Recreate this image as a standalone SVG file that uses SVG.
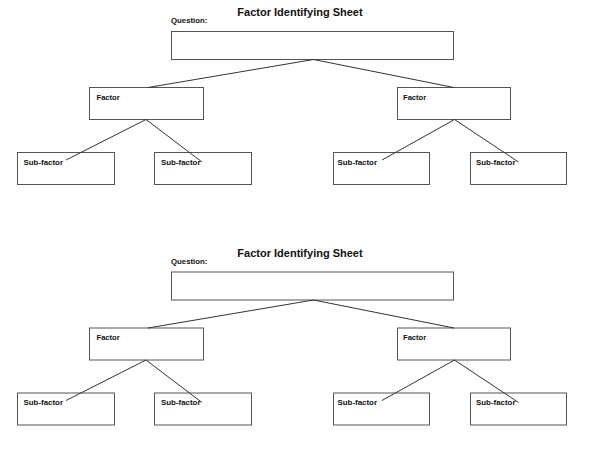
<svg xmlns="http://www.w3.org/2000/svg" width="612" height="462" viewBox="0 0 612 462">
<style>
.box{fill:#fff;stroke:#555;stroke-width:1}
.ln{stroke:#333;stroke-width:1;fill:none}
.t{font-family:"Liberation Sans",Arial,sans-serif;font-weight:bold;fill:#111}
.title{font-size:11px}
.q{font-size:7.8px}
.f{font-size:7.6px}
.s{font-size:7.9px}
</style>
<rect width="612" height="462" fill="#fff"/>
<g id="sheet1">
  <text id="title1" class="t title" x="300" y="16" text-anchor="middle">Factor Identifying Sheet</text>
  <text id="qlabel1" class="t q" x="171" y="23">Question:</text>
  <g id="question1"><rect class="box" x="171.5" y="31.5" width="282" height="28"/></g>
  <g id="factor1a"><rect class="box" x="89.5" y="87.5" width="114" height="32"/><text class="t f" x="96.5" y="99.5">Factor</text></g>
  <g id="factor1b"><rect class="box" x="397.5" y="87.5" width="113" height="32"/><text class="t f" x="403" y="99.5">Factor</text></g>
  <g id="sub1a"><rect class="box" x="17.5" y="152.5" width="97" height="32"/><text class="t s" x="23.5" y="164.5">Sub-factor</text></g>
  <g id="sub1b"><rect class="box" x="154.5" y="152.5" width="97" height="32"/><text class="t s" x="161" y="164.5">Sub-factor</text></g>
  <g id="sub1c"><rect class="box" x="333.5" y="152.5" width="96" height="32"/><text class="t s" x="337.5" y="164.5">Sub-factor</text></g>
  <g id="sub1d"><rect class="box" x="470.5" y="152.5" width="96" height="32"/><text class="t s" x="476" y="164.5">Sub-factor</text></g>
  <g id="connectors1">
    <line class="ln" x1="313.5" y1="59.5" x2="148" y2="87.5"/>
    <line class="ln" x1="313.5" y1="59.5" x2="454" y2="87.5"/>
    <line class="ln" x1="146" y1="119.5" x2="66" y2="160"/>
    <line class="ln" x1="146" y1="119.5" x2="202" y2="162"/>
    <line class="ln" x1="454.5" y1="119.5" x2="382" y2="160"/>
    <line class="ln" x1="454.5" y1="119.5" x2="518.5" y2="162"/>
  </g>
</g>
<g id="sheet2" transform="translate(0,240.5)">
  <text id="title2" class="t title" x="300" y="16" text-anchor="middle">Factor Identifying Sheet</text>
  <text id="qlabel2" class="t q" x="171" y="23">Question:</text>
  <g id="question2"><rect class="box" x="171.5" y="31.5" width="282" height="28"/></g>
  <g id="factor2a"><rect class="box" x="89.5" y="87.5" width="114" height="32"/><text class="t f" x="96.5" y="99.5">Factor</text></g>
  <g id="factor2b"><rect class="box" x="397.5" y="87.5" width="113" height="32"/><text class="t f" x="403" y="99.5">Factor</text></g>
  <g id="sub2a"><rect class="box" x="17.5" y="152.5" width="97" height="32"/><text class="t s" x="23.5" y="164.5">Sub-factor</text></g>
  <g id="sub2b"><rect class="box" x="154.5" y="152.5" width="97" height="32"/><text class="t s" x="161" y="164.5">Sub-factor</text></g>
  <g id="sub2c"><rect class="box" x="333.5" y="152.5" width="96" height="32"/><text class="t s" x="337.5" y="164.5">Sub-factor</text></g>
  <g id="sub2d"><rect class="box" x="470.5" y="152.5" width="96" height="32"/><text class="t s" x="476" y="164.5">Sub-factor</text></g>
  <g id="connectors2">
    <line class="ln" x1="313.5" y1="59.5" x2="148" y2="87.5"/>
    <line class="ln" x1="313.5" y1="59.5" x2="454" y2="87.5"/>
    <line class="ln" x1="146" y1="119.5" x2="66" y2="160"/>
    <line class="ln" x1="146" y1="119.5" x2="202" y2="162"/>
    <line class="ln" x1="454.5" y1="119.5" x2="382" y2="160"/>
    <line class="ln" x1="454.5" y1="119.5" x2="518.5" y2="162"/>
  </g>
</g>
</svg>
